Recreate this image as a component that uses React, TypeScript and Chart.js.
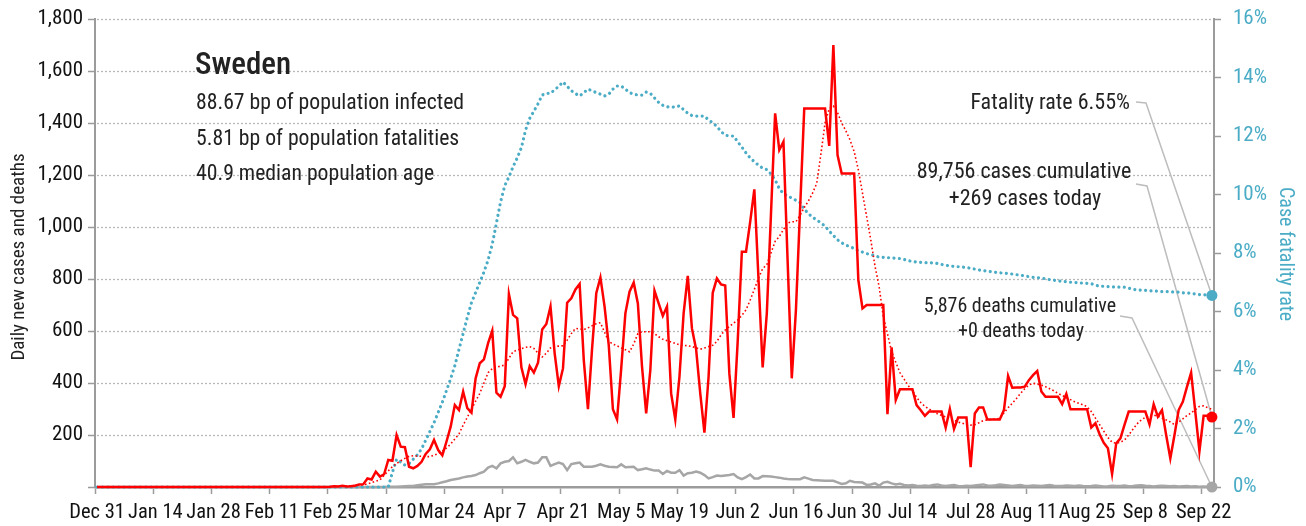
import React, { useEffect, useRef } from 'react';
import { Chart, registerables } from 'chart.js';

Chart.register(...registerables);

const FONT = "'Liberation Sans Narrow', 'Roboto Condensed', 'DejaVu Sans Condensed', 'Liberation Sans', sans-serif";

// ---------- categories: one per day, Dec 31 2019 .. Sep 24 2020 ----------
const MONTHS = ['Jan', 'Feb', 'Mar', 'Apr', 'May', 'Jun', 'Jul', 'Aug', 'Sep', 'Oct', 'Nov', 'Dec'];
const DAY_COUNT = 269;
const categories: string[] = Array.from({ length: DAY_COUNT }, (_, i) => {
  const d = new Date(Date.UTC(2019, 11, 31 + i));
  return `${MONTHS[d.getUTCMonth()]} ${d.getUTCDate()}`;
});
const TICK_STEP = 14;

// ---------- series ----------
const dailyCases: number[] = [
  0, 0, 0, 0, 0, 0, 0, 0, 0, 0, 0, 0, 0, 0,
  0, 0, 0, 0, 0, 0, 0, 0, 0, 0, 0, 0, 0, 0,
  0, 0, 0, 0, 0, 0, 0, 0, 0, 0, 0, 0, 0, 0,
  0, 0, 0, 0, 0, 0, 0, 0, 0, 0, 0, 0, 0, 0,
  1, 3, 2, 5, 2, 3, 5, 10,
  11, 33, 29, 59, 40, 49,
  104, 101, 200, 155, 153, 78, 72, 81, 97, 127,
  145, 181, 142, 122, 175, 232, 315, 296, 367, 303,
  286, 418, 476, 491, 553, 601, 363, 347, 388, 742,
  662, 649, 460, 396, 465, 440, 478, 606, 627, 694,
  514, 388, 456, 709, 726, 760, 781, 488, 299, 533,
  745, 806, 694, 546, 299, 260, 456, 668, 751, 786,
  706, 463, 283, 450, 755, 706, 658, 694, 360, 260,
  424, 668, 812, 610, 530, 360, 209, 424, 747, 802,
  779, 775, 435, 266, 560, 905, 905, 1020, 1145, 800,
  460, 668, 1050, 1437, 1296, 1328, 870, 418, 681, 1070,
  1456, 1456, 1456, 1456, 1456, 1456, 1312, 1700, 1277, 1206,
  1206, 1206, 1206, 796, 687, 700, 700, 700, 700, 700,
  280, 537, 335, 376, 376, 376, 376, 315, 295, 274,
  290, 290, 290, 290, 228, 300, 223, 267, 267, 267,
  76, 283, 306, 306, 260, 260, 260, 260, 296, 427,
  382, 383, 383, 386, 411, 430, 446, 367, 347, 347,
  347, 347, 319, 358, 299, 299, 299, 299, 299, 229,
  245, 203, 170, 149, 50, 168, 187, 240, 290, 290,
  290, 290, 290, 241, 318, 271, 296, 200, 110, 200,
  296, 328, 385, 440, 290, 138, 274, 274, 269,
];

const casesAverage: number[] = [
  0, 0, 0, 0, 0, 0, 0, 0, 0, 0, 0, 0, 0, 0,
  0, 0, 0, 0, 0, 0, 0, 0, 0, 0, 0, 0, 0, 0,
  0, 0, 0, 0, 0, 0, 0, 0, 0, 0, 0, 0, 0, 0,
  0, 0, 0, 0, 0, 0, 0, 0, 0, 0, 0, 0, 0, 0,
  0, 1, 2, 3, 4, 5, 6, 7,
  8, 12, 17, 22, 27, 45,
  62, 78, 90, 101, 110, 118, 120, 119, 118, 117,
  117, 122, 128, 138, 150, 165, 185, 204, 238, 268,
  300, 330, 360, 400, 440, 455, 460, 465, 469, 495,
  520, 527, 532, 537, 540, 533, 515, 500, 515, 535,
  541, 542, 543, 565, 590, 610, 608, 605, 612, 620,
  628, 632, 595, 560, 550, 543, 535, 528, 520, 550,
  590, 597, 597, 597, 590, 578, 568, 563, 558, 552,
  547, 545, 543, 540, 535, 530, 535, 540, 545, 560,
  585, 604, 617, 630, 642, 660, 681, 719, 760, 803,
  840, 855, 900, 945, 963, 990, 1015, 1020, 1020, 1045,
  1075, 1100, 1130, 1168, 1280, 1400, 1455, 1465, 1440, 1400,
  1370, 1335, 1290, 1220, 1130, 1040, 950, 850, 770, 655,
  590, 520, 480, 440, 415, 390, 370, 345, 325, 310,
  300, 290, 282, 275, 270, 263, 257, 250, 245, 240,
  238, 240, 247, 255, 258, 260, 262, 264, 285, 305,
  322, 340, 360, 378, 392, 399, 396, 392, 386, 378,
  370, 360, 352, 344, 336, 328, 322, 316, 309, 290,
  265, 240, 215, 190, 172, 168, 172, 181, 200, 222,
  243, 258, 268, 275, 277, 272, 265, 258, 250, 240,
  250, 262, 275, 285, 297, 310, 312, 305, 299,
];

const dailyDeaths: number[] = [
  0, 0, 0, 0, 0, 0, 0, 0, 0, 0, 0, 0, 0, 0,
  0, 0, 0, 0, 0, 0, 0, 0, 0, 0, 0, 0, 0, 0,
  0, 0, 0, 0, 0, 0, 0, 0, 0, 0, 0, 0, 0, 0,
  0, 0, 0, 0, 0, 0, 0, 0, 0, 0, 0, 0, 0, 0,
  0, 0, 0, 0, 0, 0, 0, 0, 0, 0, 0, 0, 0, 0,
  1, 1, 1, 2, 3, 4, 4, 7, 9, 11,
  11, 11, 14, 18, 22, 27, 30, 33, 37, 40,
  42, 46, 53, 59, 75, 81, 72, 91, 97, 100,
  114, 91, 97, 104, 97, 91, 94, 114, 114, 81,
  88, 94, 88, 65, 88, 91, 94, 78, 78, 78,
  82, 87, 82, 78, 77, 76, 87, 76, 77, 78,
  65, 68, 72, 67, 63, 63, 50, 62, 55, 55,
  65, 44, 53, 55, 59, 55, 46, 33, 38, 44,
  42, 44, 46, 50, 37, 30, 38, 48, 33, 33,
  42, 41, 40, 38, 36, 33, 31, 30, 30, 30,
  37, 32, 27, 26, 25, 24, 24, 24, 18, 12,
  14, 24, 19, 18, 17, 8, 10, 14, 5, 17,
  20, 14, 10, 12, 8, 6, 8, 5, 4, 6,
  4, 8, 10, 6, 4, 6, 8, 4, 3, 5,
  4, 6, 8, 10, 6, 5, 7, 10, 8, 6,
  4, 6, 8, 4, 4, 6, 5, 4, 6, 8,
  5, 4, 4, 6, 5, 4, 6, 4, 3, 4,
  6, 4, 2, 3, 5, 4, 4, 6, 3, 4,
  6, 7, 5, 4, 2, 4, 5, 4, 3, 4,
  2, 3, 4, 2, 3, 1, 2, 1, 0,
];

const fatalityRatePct: number[] = [
  0, 0, 0, 0, 0, 0, 0, 0, 0, 0, 0, 0, 0, 0,
  0, 0, 0, 0, 0, 0, 0, 0, 0, 0, 0, 0, 0, 0,
  0, 0, 0, 0, 0, 0, 0, 0, 0, 0, 0, 0, 0, 0,
  0, 0, 0, 0, 0, 0, 0, 0, 0, 0, 0, 0, 0, 0,
  0, 0, 0, 0, 0, 0, 0, 0, 0, 0, 0, 0, 0, 0,
  0, 0.5, 0.95, 0.85, 0.75, 0.8, 0.95, 1.1, 1.3, 1.6,
  1.9, 2.2, 2.55, 2.9, 3.3, 3.7, 4.15, 4.7, 5.25, 5.8,
  6.3, 6.65, 7.0, 7.35, 7.76, 8.3, 9.02, 9.75, 10.3, 10.6,
  10.95, 11.25, 11.6, 12.2, 12.6, 12.85, 13.1, 13.4, 13.46, 13.46,
  13.58, 13.7, 13.85, 13.7, 13.55, 13.45, 13.37, 13.48, 13.6, 13.55,
  13.48, 13.43, 13.37, 13.43, 13.6, 13.71, 13.71, 13.6, 13.48, 13.43,
  13.4, 13.4, 13.5, 13.46, 13.3, 13.15, 13.05, 13.0, 12.98, 13.0,
  13.03, 12.9, 12.78, 12.7, 12.68, 12.68, 12.68, 12.55, 12.45, 12.33,
  12.15, 12.03, 12.0, 12.0, 11.8, 11.62, 11.42, 11.25, 11.12, 11.0,
  10.9, 10.85, 10.7, 10.5, 10.2, 10.03, 9.95, 9.88, 9.8, 9.72,
  9.5, 9.35, 9.22, 9.13, 9.03, 8.92, 8.75, 8.6, 8.45, 8.35,
  8.27, 8.22, 8.15, 8.08, 8.03, 7.98, 7.95, 7.9, 7.86, 7.85,
  7.84, 7.83, 7.82, 7.81, 7.78, 7.74, 7.71, 7.69, 7.68, 7.67,
  7.67, 7.66, 7.64, 7.61, 7.58, 7.56, 7.54, 7.53, 7.52, 7.5,
  7.48, 7.45, 7.42, 7.4, 7.38, 7.36, 7.34, 7.32, 7.31, 7.3,
  7.28, 7.26, 7.24, 7.22, 7.19, 7.17, 7.16, 7.14, 7.12, 7.09,
  7.07, 7.05, 7.03, 7.02, 7.0, 6.99, 6.98, 6.97, 6.96, 6.95,
  6.9, 6.87, 6.86, 6.85, 6.84, 6.84, 6.83, 6.83, 6.8, 6.76,
  6.74, 6.73, 6.72, 6.71, 6.7, 6.69, 6.68, 6.68, 6.67, 6.67,
  6.66, 6.64, 6.63, 6.62, 6.6, 6.58, 6.57, 6.56, 6.55,
];

// ---------- axis ticks and texts ----------
const leftTicks = [0, 200, 400, 600, 800, 1000, 1200, 1400, 1600, 1800];
const rightTicks = [0, 2, 4, 6, 8, 10, 12, 14, 16];
const countryName = 'Sweden';
const infoLines = ['88.67 bp of population infected', '5.81 bp of population fatalities', '40.9 median population age'];
const fatalityLabel = 'Fatality rate 6.55%';
const casesLabel = ['89,756 cases cumulative', '+269 cases today'];
const deathsLabel = ['5,876 deaths cumulative', '+0 deaths today'];
const leftTitle = 'Daily new cases and deaths';
const rightTitle = 'Case fatality rate';

const RED = '#ff0000';
const TEAL = '#4bacc6';
const GREY = '#a6a6a6';
const AXIS = '#9b9b9b';
const LAST = DAY_COUNT - 1;

const overlay = {
  id: 'overlay',
  beforeDatasetsDraw(chart: any) {
    const { ctx, chartArea: a, scales } = chart;
    const y = scales.y;
    ctx.save();
    ctx.strokeStyle = '#b8b8b8';
    ctx.lineWidth = 1.3;
    ctx.setLineDash([2, 2]);
    for (const v of leftTicks) {
      if (v === 0) continue;
      const py = Math.round(y.getPixelForValue(v)) + 0.5;
      ctx.beginPath();
      ctx.moveTo(a.left + 2, py);
      ctx.lineTo(a.right - 2, py);
      ctx.stroke();
    }
    ctx.setLineDash([]);
    // leader lines to end points
    const pFat = chart.getDatasetMeta(2).data[LAST];
    const pCase = chart.getDatasetMeta(0).data[LAST];
    const pDeath = chart.getDatasetMeta(3).data[LAST];
    ctx.strokeStyle = '#bdbdbd';
    ctx.lineWidth = 1.5;
    const leader = (x0: number, y0: number, x1: number, y1: number, p: any) => {
      ctx.beginPath();
      ctx.moveTo(x0, y0);
      ctx.lineTo(x1, y1);
      ctx.lineTo(p.x, p.y);
      ctx.stroke();
    };
    leader(1136, 102, 1146, 103, pFat);
    leader(1136, 184, 1147, 186, pCase);
    leader(1120, 316, 1132, 318, pDeath);
    ctx.restore();
  },
  afterDraw(chart: any) {
    const { ctx } = chart;
    ctx.save();
    ctx.fillStyle = '#222';
    ctx.textBaseline = 'middle';
    ctx.textAlign = 'left';
    ctx.font = `500 31px ${FONT}`;
    ctx.fillText(countryName, 195, 66);
    ctx.font = `21.7px ${FONT}`;
    infoLines.forEach((t, i) => ctx.fillText(t, 196, 104 + i * 35.5));

    ctx.font = `22px ${FONT}`;
    ctx.textAlign = 'right';
    ctx.fillText(fatalityLabel, 1130, 103);
    ctx.textAlign = 'center';
    ctx.fillText(casesLabel[0], 1024, 172);
    ctx.fillText(casesLabel[1], 1025, 199);
    ctx.font = `20px ${FONT}`;
    ctx.fillText(deathsLabel[0], 1020, 307);
    ctx.fillText(deathsLabel[1], 1021, 332);

    // axis titles
    ctx.font = `19px ${FONT}`;
    ctx.fillStyle = '#222';
    ctx.save();
    ctx.translate(19, 257);
    ctx.rotate(-Math.PI / 2);
    ctx.textAlign = 'center';
    ctx.fillText(leftTitle, 0, 0);
    ctx.restore();
    ctx.save();
    ctx.fillStyle = TEAL;
    ctx.font = `20px ${FONT}`;
    ctx.translate(1285, 254);
    ctx.rotate(Math.PI / 2);
    ctx.textAlign = 'center';
    ctx.fillText(rightTitle, 0, 0);
    ctx.restore();
    ctx.restore();
  },
};

const lastOnly = (r: number) => (c: any) => (c.dataIndex === LAST ? r : 0);
const fixVertical = (w: number) => (s: any) => {
  s.width = w;
  s.paddingTop = 0;
  s.paddingBottom = 0;
};

export default function App() {
  const ref = useRef<HTMLCanvasElement | null>(null);
  useEffect(() => {
    if (!ref.current) return;
    const chart = new Chart(ref.current, {
      type: 'line',
      data: {
        labels: categories,
        datasets: [
          {
            label: 'Daily new cases',
            data: dailyCases,
            yAxisID: 'y',
            borderColor: RED,
            backgroundColor: RED,
            borderWidth: 2.5,
            pointRadius: lastOnly(5.5),
            pointBorderWidth: 0,
            pointBackgroundColor: RED,
            tension: 0,
            clip: false,
          },
          {
            label: '7-day average',
            data: casesAverage,
            yAxisID: 'y',
            borderColor: RED,
            borderWidth: 1.6,
            borderDash: [1.6, 2.4],
            pointRadius: 0,
            tension: 0,
          },
          {
            label: 'Case fatality rate',
            data: fatalityRatePct,
            yAxisID: 'y1',
            borderColor: TEAL,
            backgroundColor: TEAL,
            borderWidth: 3.2,
            borderDash: [0.01, 5.4],
            borderCapStyle: 'round',
            pointRadius: lastOnly(5.5),
            pointBorderWidth: 0,
            pointBackgroundColor: TEAL,
            tension: 0,
            clip: false,
          },
          {
            label: 'Daily deaths',
            data: dailyDeaths,
            yAxisID: 'y',
            borderColor: GREY,
            backgroundColor: GREY,
            borderWidth: 2.5,
            pointRadius: lastOnly(5.5),
            pointBorderWidth: 0,
            pointBackgroundColor: GREY,
            tension: 0,
            clip: false,
          },
        ],
      },
      options: {
        responsive: false,
        animation: false,
        devicePixelRatio: 1,
        events: [],
        layout: { padding: { top: 19, left: 0, right: 0, bottom: 0 } },
        plugins: { legend: { display: false }, tooltip: { enabled: false }, title: { display: false } },
        scales: {
          x: {
            type: 'category',
            offset: true,
            grid: {
              offset: true,
              drawOnChartArea: false,
              drawTicks: true,
              tickLength: 7,
              tickWidth: 1.5,
              tickColor: (c: any) => (c.index % TICK_STEP === 0 ? AXIS : 'rgba(0,0,0,0)'),
            },
            border: { display: true, color: AXIS, width: 2.5 },
            ticks: {
              autoSkip: false,
              maxRotation: 0,
              minRotation: 0,
              padding: 7,
              color: '#111',
              font: { family: FONT, size: 20.5 },
              callback: (_v: any, i: number) => (i % TICK_STEP === 0 ? categories[i] : ''),
            },
            afterFit: (s: any) => { s.height = 39; },
          },
          y: {
            position: 'left',
            min: 0,
            max: 1800,
            afterBuildTicks: (s: any) => { s.ticks = leftTicks.map((v) => ({ value: v })); },
            grid: { drawOnChartArea: false, drawTicks: true, tickLength: 7, tickWidth: 1.5, tickColor: AXIS },
            border: { display: true, color: AXIS, width: 2 },
            ticks: {
              padding: 5,
              color: '#111',
              font: { family: FONT, size: 21 },
              callback: (v: any) => (Number(v) === 0 ? '' : Number(v).toLocaleString('en-US')),
            },
            afterFit: fixVertical(95),
          },
          y1: {
            position: 'right',
            min: 0,
            max: 16,
            afterBuildTicks: (s: any) => { s.ticks = rightTicks.map((v) => ({ value: v })); },
            grid: { drawOnChartArea: false, drawTicks: true, tickLength: 7, tickWidth: 1.5, tickColor: AXIS },
            border: { display: true, color: AXIS, width: 2 },
            ticks: {
              padding: 12,
              color: TEAL,
              font: { family: FONT, size: 21 },
              callback: (v: any) => `${v}%`,
            },
            afterFit: fixVertical(92),
          },
        },
      },
      plugins: [overlay],
    } as any);
    return () => chart.destroy();
  }, []);

  return (
    <div style={{ position: 'absolute', left: 0, top: 0, width: 1306, height: 526, background: '#fff' }}>
      <canvas ref={ref} width={1306} height={526} />
    </div>
  );
}
